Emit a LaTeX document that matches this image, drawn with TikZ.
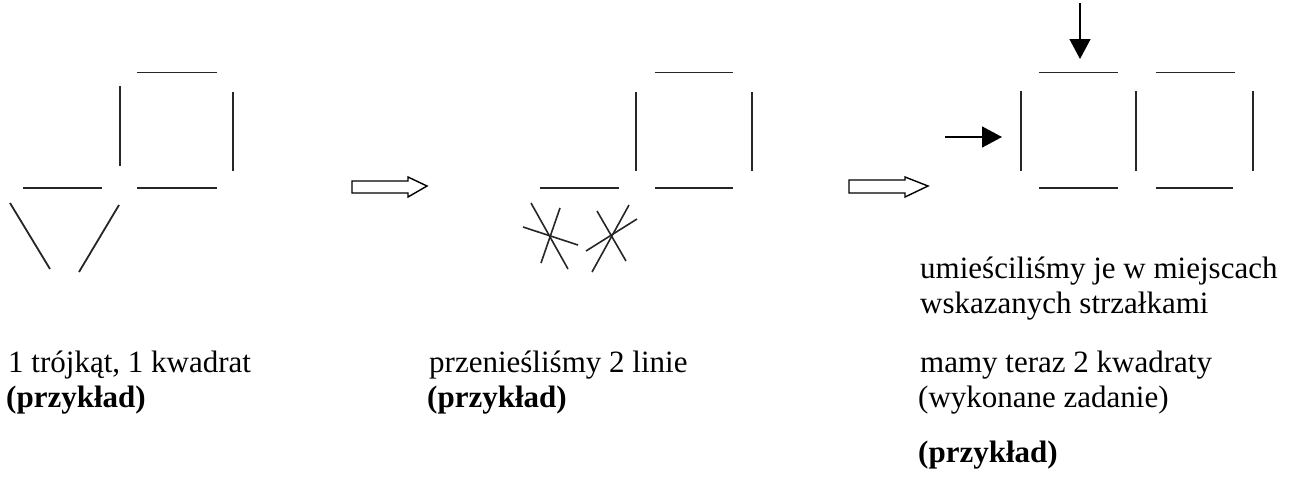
\documentclass[tikz,border=0pt]{standalone}
\usepackage{fontspec}
\setmainfont{Liberation Serif}
\usetikzlibrary{arrows.meta}
\begin{document}
\begin{tikzpicture}[x=1pt,y=-1pt,
  match/.style={line width=1.8pt,draw=black!85},
  hollow/.style={line width=1.4pt,draw=black,fill=white,line join=miter},
  pointer/.style={line width=1.5pt,draw=black,-{Triangle[length=20pt,width=21pt]}},
  txt/.style={anchor=base west,inner sep=0pt,font=\fontsize{31}{36}\selectfont},
  btxt/.style={txt,font=\fontsize{31}{36}\selectfont\bfseries}]
\useasboundingbox (0,0) rectangle (1294,480);
% ---- left figure: 1 triangle, 1 square
\draw[match] (137,72.5) -- (217,72.5);
\draw[match] (120,86) -- (120,166);
\draw[match] (233,92) -- (233,171);
\draw[match] (137,188) -- (217,188);
\draw[match] (23,188) -- (102,188);
\draw[match] (10,203) -- (50,269);
\draw[match] (119,205) -- (79,272);
% ---- hollow arrow 1
\draw[hollow] (352,181) -- (408,181) -- (408,177) -- (427,186) -- (408,197) -- (408,193) -- (352,193) -- cycle;
% ---- middle figure
\draw[match] (655,72.5) -- (733,72.5);
\draw[match] (636,92) -- (636,171);
\draw[match] (752,92) -- (752,171);
\draw[match] (655,188) -- (733,188);
\draw[match] (540,188) -- (619,188);
% stars
\draw[match,line width=1.6pt] (531,203) -- (568,269);
\draw[match,line width=1.6pt] (560,208) -- (541,263);
\draw[match,line width=1.6pt] (523,227) -- (578,245);
\draw[match,line width=1.6pt] (597,211) -- (626,261);
\draw[match,line width=1.6pt] (629,205) -- (592,272);
\draw[match,line width=1.6pt] (637,219) -- (586,251);
% ---- hollow arrow 2
\draw[hollow] (849,180) -- (905,180) -- (905,177) -- (928,186) -- (905,197) -- (905,193) -- (849,193) -- cycle;
% ---- right figure: 2 squares
\draw[match] (1039,72.5) -- (1118,72.5);
\draw[match] (1156,72.5) -- (1235,72.5);
\draw[match] (1021,91) -- (1021,171);
\draw[match] (1136,91) -- (1136,171);
\draw[match] (1253,91) -- (1253,171);
\draw[match] (1039,188) -- (1118,188);
\draw[match] (1156,188) -- (1233,188);
% pointers
\coordinate (dA) at (1080,3);
\coordinate (dB) at (1080,59);
\coordinate (rA) at (945,137);
\coordinate (rB) at (1002,137);
\draw[pointer] (dA) -- (dB);
\draw[pointer] (rA) -- (rB);
% ---- texts
\node[txt] (t1) at (8,372) {1 trójkąt, 1 kwadrat};
\node[btxt] (t2) at (6,407) {(przykład)};
\node[txt] (m1) at (429,372) {przenieśliśmy 2 linie};
\node[btxt] (m2) at (427,407) {(przykład)};
\node[txt] (r1) at (920,278) {umieściliśmy je w miejscach};
\node[txt] (r2) at (920,313) {wskazanych strzałkami};
\node[txt] (r3) at (920,372) {mamy teraz 2 kwadraty};
\node[txt] (r4) at (918,407) {(wykonane zadanie)};
\node[btxt] (r5) at (918,462) {(przykład)};
\end{tikzpicture}
\end{document}
